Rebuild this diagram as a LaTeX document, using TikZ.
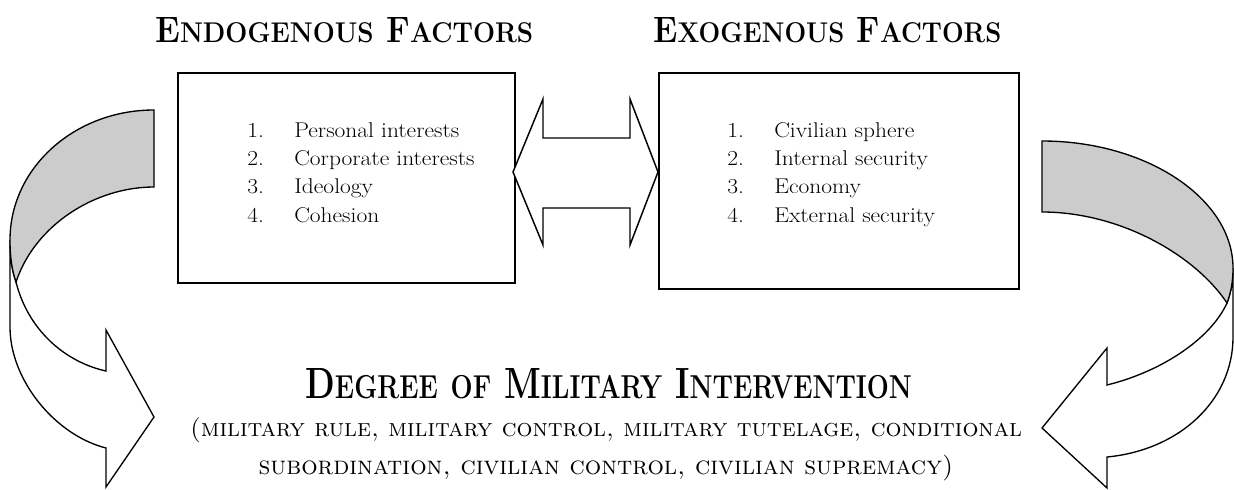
\documentclass[tikz,border=0pt]{standalone}
\usepackage{graphicx}
\newcommand\hsc[1]{{\fontsize{21}{24}\selectfont #1}}
\newcommand\tsc[1]{{\fontsize{25}{28}\selectfont #1}}
\newcommand\itm[1]{\scalebox{1.1}[1]{\fontsize{16}{19}\selectfont #1}}
\begin{document}
\begin{tikzpicture}[x=0.75pt,y=-0.75pt,line join=miter]
\tikzset{
  factorbox/.style={draw,line width=1.2pt,inner sep=0pt,anchor=north west},
  ribbon/.style={draw,line width=1pt,fill=white},
  backface/.style={draw,line width=1pt,fill=black!20},
  blockarrow/.style={draw,line width=1.1pt,fill=white},
  itemtext/.style={anchor=base west,inner sep=0pt},
  headtext/.style={anchor=base west,inner sep=0pt},
  subtext/.style={anchor=base,inner sep=0pt},
}
\useasboundingbox (0,0) rectangle (1234,489);

% headings
\node[headtext] (endohead) at (155,42)
  {\resizebox{283.5pt}{18.75pt}{\fontsize{27}{30}\selectfont\bfseries E\hsc{NDOGENOUS} F\hsc{ACTORS}}};
\node[headtext] (exohead) at (653,42)
  {\resizebox{261pt}{18.75pt}{\fontsize{27}{30}\selectfont\bfseries E\hsc{XOGENOUS} F\hsc{ACTORS}}};

% boxes
\node[factorbox,minimum width=252.75pt,minimum height=157.5pt] (endo) at (177,72) {};
\node[factorbox,minimum width=270pt,minimum height=162pt] (exo) at (658,72) {};

% items
\node[itemtext] (e1n) at (247,137) {\itm{1.}};
\node[itemtext] (e1) at (294,137) {\itm{Personal interests}};
\node[itemtext] (e2n) at (247,165.3) {\itm{2.}};
\node[itemtext] (e2) at (294,165.3) {\itm{Corporate interests}};
\node[itemtext] (e3n) at (247,193.6) {\itm{3.}};
\node[itemtext] (e3) at (294,193.6) {\itm{Ideology}};
\node[itemtext] (e4n) at (247,222) {\itm{4.}};
\node[itemtext] (e4) at (294,222) {\itm{Cohesion}};

\node[itemtext] (x1n) at (727,137) {\itm{1.}};
\node[itemtext] (x1) at (774,137) {\itm{Civilian sphere}};
\node[itemtext] (x2n) at (727,165.3) {\itm{2.}};
\node[itemtext] (x2) at (774,165.3) {\itm{Internal security}};
\node[itemtext] (x3n) at (727,193.6) {\itm{3.}};
\node[itemtext] (x3) at (774,193.6) {\itm{Economy}};
\node[itemtext] (x4n) at (727,222) {\itm{4.}};
\node[itemtext] (x4) at (774,222) {\itm{External security}};

% double block arrow between the boxes
\draw[blockarrow] (513,172) -- (543,99) -- (543,138) -- (630,138) -- (630,99)
  -- (658,172) -- (630,245) -- (630,208) -- (543,208) -- (543,245) -- cycle;

% left curved arrow
\draw[ribbon] (10,240) -- (10,327) .. controls (10,380) and (55,435) .. (106,448)
  -- (106,487) -- (154,417) -- (106,330) -- (106,371)
  .. controls (65,362) and (28,330) .. (16,282)
  .. controls (12,270) and (10,258) .. (10,240) -- cycle;
\draw[backface] (154,110) .. controls (74.5,110) and (10,168) .. (10,240)
  .. controls (10,258) and (12,270) .. (16,282)
  .. controls (35,225) and (95,187) .. (154,187) -- cycle;

% right curved arrow
\draw[ribbon] (1233,268) -- (1233,337) .. controls (1233,400) and (1180,450) .. (1107,457)
  -- (1107,488) -- (1042,428) -- (1107,348) -- (1107,385)
  .. controls (1160,372) and (1210,340) .. (1227,303)
  .. controls (1231,292) and (1233,282) .. (1233,268) -- cycle;
\draw[backface] (1042,141) .. controls (1147,141) and (1233,199) .. (1233,268)
  .. controls (1233,282) and (1231,292) .. (1227,303)
  .. controls (1195,255) and (1120,212) .. (1042,212) -- cycle;

% bottom title
\node[headtext] (degree) at (305,398)
  {\resizebox{455pt}{22.5pt}{\fontsize{33}{36}\selectfont\bfseries D\tsc{EGREE} \tsc{OF} M\tsc{ILITARY} I\tsc{NTERVENTION}}};
\node[subtext] (sub1) at (606,436)
  {\resizebox{624pt}{!}{\fontsize{20}{24}\selectfont\textsc{(military rule, military control, military tutelage, conditional}}};
\node[subtext] (sub2) at (606,474)
  {\resizebox{521pt}{!}{\fontsize{20}{24}\selectfont\textsc{subordination, civilian control, civilian supremacy)}}};
\end{tikzpicture}
\end{document}
